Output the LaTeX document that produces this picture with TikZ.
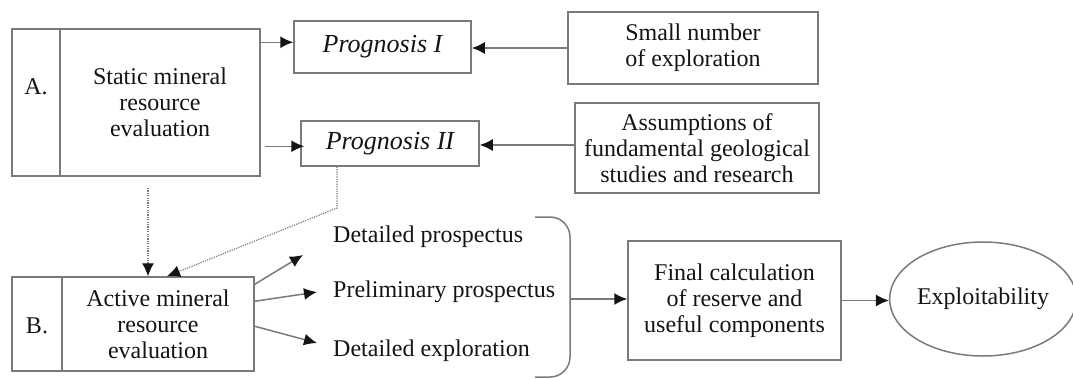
\documentclass[tikz,border=0pt]{standalone}
\usepackage{fontspec}
\setmainfont{Liberation Serif}
\usetikzlibrary{arrows.meta,shapes.geometric}
\definecolor{linegray}{HTML}{7A7A7A}
\definecolor{ink}{HTML}{141414}
\begin{document}
\begin{tikzpicture}[x=1pt,y=-1pt,
  every node/.style={text=ink,font=\fontsize{24}{26}\selectfont},
  box/.style={draw=linegray,line width=1.5pt,rectangle,inner sep=0pt,align=center,anchor=center},
  conn/.style={draw=linegray,line width=1.5pt},
  tip/.style={-{Latex[length=13pt,width=12pt,color=ink]}},
  arr/.style={conn,tip},
  dots/.style={draw=linegray,line width=1.2pt,dash pattern=on 1.2pt off 1.2pt},
  dotarr/.style={dots,tip},
  plain/.style={inner sep=0pt,align=left},
  prog/.style={font=\fontsize{26}{28}\selectfont\itshape}]
\useasboundingbox (0,0) rectangle (1073,378);

% A block
\node[box,minimum width=48pt,minimum height=147pt] (Alab) at (36,102.5) {};
\node[box,minimum width=200pt,minimum height=147pt] (Amain) at (160,102.5) {Static mineral\\resource\\evaluation};
\node[plain] (Atext) at (36,87) {A.};

% Prognosis boxes
\node[box,prog,minimum width=177pt,minimum height=52pt] (PI) at (382.5,47) {Prognosis I};
\node[box,prog,minimum width=178pt,minimum height=45pt] (PII) at (390,143.5) {Prognosis II};

% right boxes
\node[box,minimum width=250pt,minimum height=72pt] (SN) at (693,48) {Small number\\of exploration};
\node[box,minimum width=244pt,minimum height=90pt] (AS) at (697,148) {Assumptions of\\fundamental geological\\studies and research};

% B block
\node[box,minimum width=50pt,minimum height=94pt] (Blab) at (37,324) {};
\node[box,minimum width=192pt,minimum height=94pt] (Bmain) at (158,324) {Active mineral\\resource\\evaluation};
\node[plain] (Btext) at (37,326) {B.};

% options
\node[plain,anchor=west] (DP) at (333,237) {Detailed prospectus};
\node[plain,anchor=west] (PP) at (333,292) {Preliminary prospectus};
\node[plain,anchor=west] (DE) at (333,351) {Detailed exploration};

% final
\node[box,minimum width=213pt,minimum height=119pt] (FC) at (734.5,300.5) {Final calculation\\of reserve and\\useful components};
\node[draw=linegray,line width=1.5pt,ellipse,inner sep=0pt,minimum width=170pt,minimum height=114pt] (EX) at (983,299) {Exploitability};

% arrows top
\draw[arr] ([yshift=-14pt]Amain.north east) -- ([yshift=-14pt]Amain.north east -| PI.west);
\draw[arr] ([xshift=4pt,yshift=-118pt]Amain.north east) -- ([xshift=4pt,yshift=-118pt]Amain.north east -| PII.west);
\draw[arr] (SN.west) -- (SN.west -| PI.east);
\draw[arr] ([yshift=3pt]AS.west) -- ([yshift=3pt]AS.west -| PII.east);

% dotted connectors
\coordinate (d1) at (148,188);
\draw[dotarr] (d1) -- (d1 |- Bmain.north);
\coordinate (d2) at (337,208);
\draw[dotarr] (PII.south -| d2) -- (d2) -- ([xshift=9pt]Bmain.north);

% B to options
\draw[arr] ([yshift=-8pt]Bmain.north east) -- ([xshift=-30pt,yshift=-18pt]DP.west);
\draw[arr] ([yshift=-25pt]Bmain.north east) -- ([xshift=-16pt]PP.west);
\draw[arr] ([yshift=-50pt]Bmain.north east) -- ([xshift=-16pt,yshift=8pt]DE.west);

% brace
\coordinate (bt) at (535,217);
\coordinate (bb) at (535,377);
\coordinate (br) at (570,299);
\draw[conn,rounded corners=20pt] (bt) -- (bt -| br) -- (bb -| br) -- (bb);

% to final and exploitability
\draw[arr] (br) -- (br -| FC.west);
\draw[arr] (FC.east) -- (FC.east -| EX.west);
\end{tikzpicture}
\end{document}
